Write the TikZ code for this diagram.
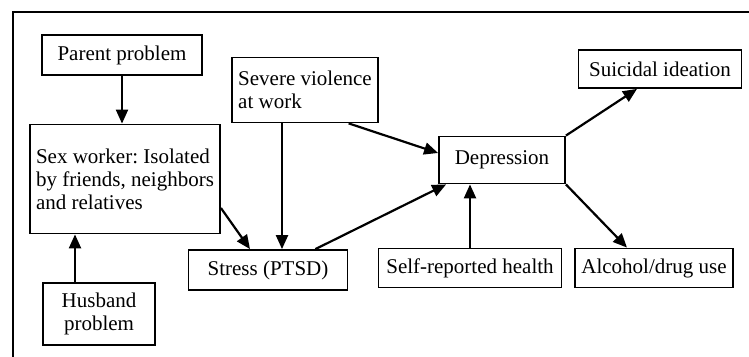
\documentclass[tikz,border=0pt]{standalone}
\usepackage{fontspec}
\setmainfont{Liberation Serif}
\frenchspacing
\usetikzlibrary{arrows.meta}
\tikzset{
	factor/.style={draw, line width=0.9pt, inner sep=3pt, font=\fontsize{10.5}{11.5}\selectfont},
	effect/.style={line width=1.1pt, -{Triangle[length=7pt,width=6pt]}}
}
\begin{document}
\begin{tikzpicture}[x=0.5pt, y=-0.5pt]
	\useasboundingbox (0,0) rectangle (749,357);
	% Rahmen
	\draw [line width=0.8pt] (749,12) -- (13,12) -- (13,357);
	% Kaesten
	\node [factor, minimum width=80pt, minimum height=20pt] (parent) at (122,55) {Parent problem};
	\node [factor, minimum width=95pt, minimum height=54.5pt, align=left] (sexw) at (125,179) {Sex worker: Isolated\\by friends, neighbors\\and relatives};
	\node [factor, minimum width=56pt, minimum height=31pt, align=center] (husband) at (99,314) {Husband\\problem};
	\node [factor, minimum width=72.5pt, minimum height=32.5pt, align=left] (severe) at (305,90) {Severe violence\\at work};
	\node [factor, minimum width=79.5pt, minimum height=20pt] (stress) at (268,270) {Stress (PTSD)};
	\node [factor, minimum width=63pt, minimum height=23.5pt] (depr) at (502,160) {Depression};
	\node [factor, minimum width=91.5pt, minimum height=19.5pt] (selfrep) at (470,268) {Self-reported health};
	\node [factor, minimum width=81.5pt, minimum height=19pt] (suicidal) at (660,69) {Suicidal ideation};
	\node [factor, minimum width=79pt, minimum height=19.5pt] (alcohol) at (654,268) {Alcohol/drug use};
	% Pfeile
	\draw [effect] (parent.south) -- (parent.south |- sexw.north);
	\draw [effect] ([xshift=-12pt]husband.north) -- ([xshift=-12pt]husband.north |- sexw.south);
	\draw [effect] ([yshift=-14.5pt]sexw.east) -- ([xshift=-9pt]stress.north);
	\draw [effect] ([xshift=-11.5pt]severe.south) -- ([xshift=-11.5pt]severe.south |- stress.north);
	\draw [effect] ([xshift=-15pt]severe.south east) -- ([yshift=3.5pt]depr.west);
	\draw [effect] ([xshift=-16.5pt]stress.north east) -- ([xshift=4pt]depr.south west);
	\draw [effect] (selfrep.north) -- (selfrep.north |- depr.south);
	\draw [effect] (depr.north east) -- ([xshift=-11.5pt]suicidal.south);
	\draw [effect] (depr.south east) -- ([xshift=-13.5pt]alcohol.north);
\end{tikzpicture}
\end{document}
